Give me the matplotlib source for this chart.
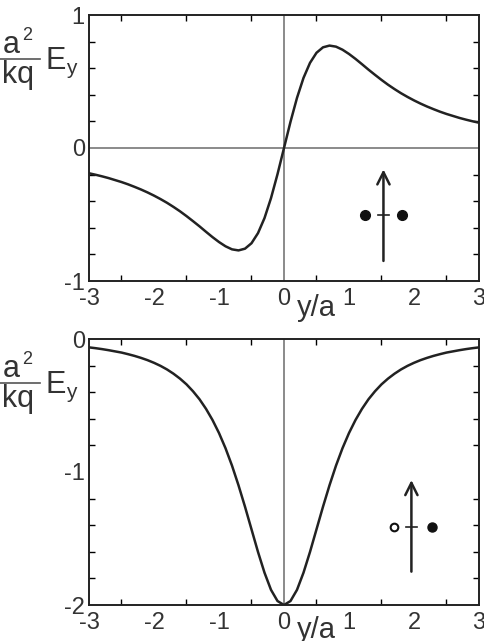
import numpy as np
import matplotlib
matplotlib.use('Agg')
import matplotlib.pyplot as plt
from matplotlib.lines import Line2D
from matplotlib.ticker import MultipleLocator

plt.rcParams['font.family'] = ['Liberation Sans', 'DejaVu Sans']
plt.rcParams['axes.unicode_minus'] = False

# y/a positions, -3 .. 3 in steps of 0.1
yPos = [-3.0, -2.9, -2.8, -2.7, -2.6, -2.5, -2.4, -2.3, -2.2, -2.1,
        -2.0, -1.9, -1.8, -1.7, -1.6, -1.5, -1.4, -1.3, -1.2, -1.1,
        -1.0, -0.9, -0.8, -0.7, -0.6, -0.5, -0.4, -0.3, -0.2, -0.1,
        0.0, 0.1, 0.2, 0.3, 0.4, 0.5, 0.6, 0.7, 0.8, 0.9,
        1.0, 1.1, 1.2, 1.3, 1.4, 1.5, 1.6, 1.7, 1.8, 1.9,
        2.0, 2.1, 2.2, 2.3, 2.4, 2.5, 2.6, 2.7, 2.8, 2.9, 3.0]

# top panel: two like charges
eyLike = [-0.190, -0.201, -0.213, -0.226, -0.241, -0.256, -0.273, -0.292, -0.312, -0.334,
          -0.358, -0.384, -0.412, -0.443, -0.476, -0.512, -0.550, -0.589, -0.630, -0.670,
          -0.707, -0.739, -0.762, -0.770, -0.757, -0.716, -0.640, -0.527, -0.377, -0.197,
          0.0, 0.197, 0.377, 0.527, 0.640, 0.716, 0.757, 0.770, 0.762, 0.739,
          0.707, 0.670, 0.630, 0.589, 0.550, 0.512, 0.476, 0.443, 0.412, 0.384,
          0.358, 0.334, 0.312, 0.292, 0.273, 0.256, 0.241, 0.226, 0.213, 0.201, 0.190]

# bottom panel: opposite charges
eyDipole = [-0.063, -0.069, -0.076, -0.084, -0.093, -0.102, -0.114, -0.127, -0.142, -0.159,
            -0.179, -0.202, -0.229, -0.261, -0.298, -0.341, -0.393, -0.453, -0.525, -0.609,
            -0.707, -0.821, -0.952, -1.100, -1.261, -1.431, -1.601, -1.757, -1.886, -1.970,
            -2.000, -1.970, -1.886, -1.757, -1.601, -1.431, -1.261, -1.100, -0.952, -0.821,
            -0.707, -0.609, -0.525, -0.453, -0.393, -0.341, -0.298, -0.261, -0.229, -0.202,
            -0.179, -0.159, -0.142, -0.127, -0.114, -0.102, -0.093, -0.084, -0.076, -0.069, -0.063]

xTicks = [-3, -2, -1, 0, 1, 2, 3]

W, H = 485, 641
fig = plt.figure(figsize=(W / 100, H / 100), dpi=100)
txtCol = '#333333'


def px(x, y):
    return x / W, 1 - y / H


def setupAxes(ax, ylim, yticks):
    ax.set_xlim(-3, 3)
    ax.set_ylim(*ylim)
    ax.set_xticks(xTicks)
    ax.set_yticks(yticks)
    ax.xaxis.set_minor_locator(MultipleLocator(0.5))
    ax.yaxis.set_minor_locator(MultipleLocator(0.2))
    ax.tick_params(which='both', direction='in', top=True, right=True,
                   length=4, width=1.0, labelsize=17, labelcolor=txtCol)
    ax.tick_params(which='major', length=0)
    ax.tick_params(axis='x', pad=5)
    ax.tick_params(axis='y', pad=3)
    for s in ax.spines.values():
        s.set_linewidth(1.4)
        s.set_color('#222222')


def yLabel(dy):
    kw = dict(va='baseline', color=txtCol)
    fig.text(*px(3, 53 + dy), 'a', fontsize=22, **kw)
    fig.text(*px(22, 40 + dy), '2', fontsize=13, **kw)
    fig.add_artist(Line2D([0, 40 / W], [1 - (59 + dy) / H] * 2,
                          color='#555555', lw=1.2))
    fig.text(*px(2, 83 + dy), 'kq', fontsize=22, **kw)
    fig.text(*px(46, 69 + dy), 'E', fontsize=22, **kw)
    fig.text(*px(66, 74 + dy), 'y', fontsize=15, **kw)


# top panel
ax1 = fig.add_axes([89 / W, 1 - 281 / H, 390 / W, 266 / H])
setupAxes(ax1, (-1, 1), [-1, 0, 1])
ax1.axhline(0, color='#777777', lw=1.2, zorder=1)
ax1.axvline(0, color='#777777', lw=1.2, zorder=1)
ax1.plot(yPos, eyLike, color='#222222', lw=1.8, zorder=3)
ax1.annotate('', xy=(1.53, -0.14), xytext=(1.53, -0.87),
             arrowprops=dict(arrowstyle='->', lw=1.8, color='#222222',
                             mutation_scale=22))
ax1.plot([1.24, 1.82], [-0.5, -0.5], 'o', color='#111111', ms=7)
ax1.plot([1.45, 1.61], [-0.5, -0.5], color='#222222', lw=1.2)
fig.text(*px(297, 316), 'y/a', fontsize=21, va='baseline', color=txtCol)
yLabel(0)

# bottom panel
ax2 = fig.add_axes([89 / W, 1 - 605 / H, 390 / W, 266 / H])
setupAxes(ax2, (-2, 0), [-2, -1, 0])
ax2.axvline(0, color='#777777', lw=1.2, zorder=1)
ax2.plot(yPos, eyDipole, color='#222222', lw=1.8, zorder=3)
ax2.annotate('', xy=(1.96, -1.04), xytext=(1.96, -1.77),
             arrowprops=dict(arrowstyle='->', lw=1.8, color='#222222',
                             mutation_scale=22))
ax2.plot([1.69], [-1.41], 'o', mfc='white', mec='#111111', mew=1.5, ms=5.5)
ax2.plot([2.28], [-1.41], 'o', color='#111111', ms=6.5)
ax2.plot([1.88, 2.04], [-1.41, -1.41], color='#222222', lw=1.2)
fig.text(*px(297, 638), 'y/a', fontsize=21, va='baseline', color=txtCol)
yLabel(324)

fig.savefig('out.png', dpi=100)
